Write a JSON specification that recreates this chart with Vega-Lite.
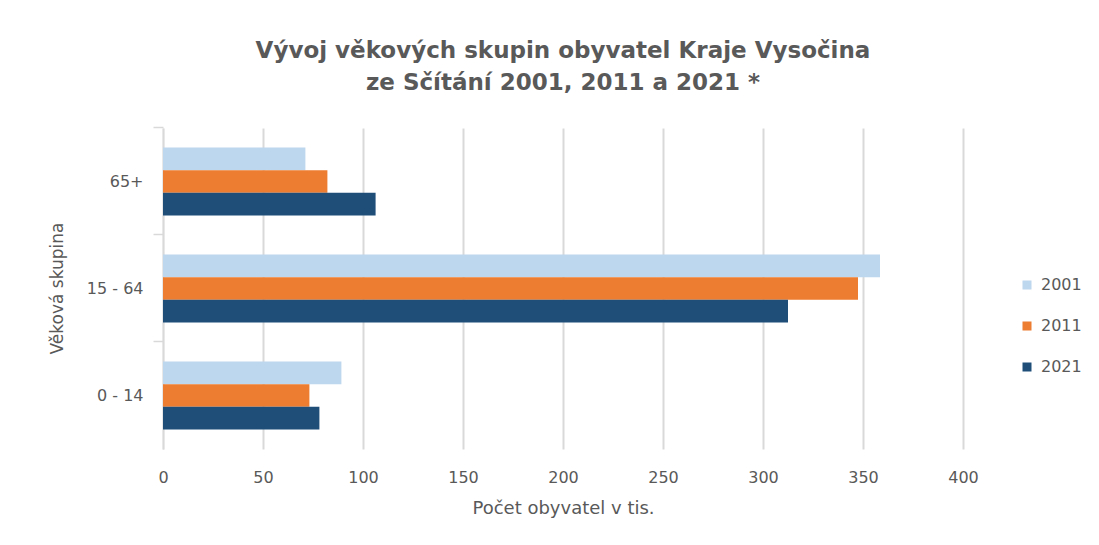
{
  "$schema": "https://vega.github.io/schema/vega-lite/v6.json",
  "width": 800,
  "height": 321,
  "autosize": {"type": "none"},
  "padding": {"left": 163, "top": 128, "right": 136, "bottom": 96},
  "background": "white",
  "config": {
    "font": "DejaVu Sans",
    "view": {"stroke": null}
  },
  "title": {
    "text": ["Vývoj věkových skupin  obyvatel Kraje Vysočina", "ze Sčítání 2001, 2011 a 2021 *"],
    "font": "DejaVu Sans",
    "fontSize": 23,
    "fontWeight": "bold",
    "color": "#595959",
    "anchor": "middle",
    "lineHeight": 32,
    "offset": 31
  },
  "data": {
    "values": [
      {"skupina": "65+", "rok": "2001", "pocet": 71.2},
      {"skupina": "65+", "rok": "2011", "pocet": 82.2},
      {"skupina": "65+", "rok": "2021", "pocet": 106.3},
      {"skupina": "15 - 64", "rok": "2001", "pocet": 358.5},
      {"skupina": "15 - 64", "rok": "2011", "pocet": 347.5},
      {"skupina": "15 - 64", "rok": "2021", "pocet": 312.5},
      {"skupina": "0 - 14", "rok": "2001", "pocet": 89.2},
      {"skupina": "0 - 14", "rok": "2011", "pocet": 73.2},
      {"skupina": "0 - 14", "rok": "2021", "pocet": 78.2}
    ]
  },
  "mark": {"type": "bar"},
  "encoding": {
    "y": {
      "field": "skupina",
      "type": "nominal",
      "sort": ["65+", "15 - 64", "0 - 14"],
      "scale": {"paddingInner": 0.364, "paddingOuter": 0.182},
      "axis": {
        "title": "Věková skupina",
        "titleFont": "DejaVu Sans",
        "titleFontSize": 17,
        "titleFontWeight": "normal",
        "titleColor": "#595959",
        "titleX": -106,
        "titleY": 160,
        "titleAlign": "center",
        "titleBaseline": "middle",
        "titleAngle": -90,
        "labelFontSize": 16,
        "labelColor": "#595959",
        "labelPadding": 10,
        "tickSize": 10,
        "tickColor": "#d9d9d9",
        "tickWidth": 1.5,
        "bandPosition": -0.294,
        "domainColor": "#d9d9d9",
        "domainWidth": 1.5,
        "grid": false
      }
    },
    "yOffset": {"field": "rok", "type": "nominal", "sort": ["2001", "2011", "2021"]},
    "x": {
      "field": "pocet",
      "type": "quantitative",
      "scale": {"domain": [0, 400], "nice": false},
      "axis": {
        "title": "Počet obyvatel v tis.",
        "titleFont": "DejaVu Sans",
        "titleFontSize": 18,
        "titleFontWeight": "normal",
        "titleColor": "#595959",
        "titlePadding": 14,
        "values": [0, 50, 100, 150, 200, 250, 300, 350, 400],
        "labelFontSize": 16,
        "labelColor": "#595959",
        "labelPadding": 20,
        "labelFlush": false,
        "ticks": false,
        "tickSize": 0,
        "domain": false,
        "grid": true,
        "gridColor": "#d9d9d9",
        "gridWidth": 2
      }
    },
    "color": {
      "field": "rok",
      "type": "nominal",
      "scale": {"domain": ["2001", "2011", "2021"], "range": ["#BDD7EE", "#ED7D31", "#1F4E79"]},
      "legend": {
        "title": null,
        "orient": "none",
        "legendX": 856,
        "legendY": 149,
        "padding": 0,
        "symbolType": "square",
        "symbolSize": 81,
        "symbolStrokeWidth": 0,
        "labelFontSize": 16,
        "labelColor": "#595959",
        "labelOffset": 6,
        "rowPadding": 25
      }
    }
  }
}
